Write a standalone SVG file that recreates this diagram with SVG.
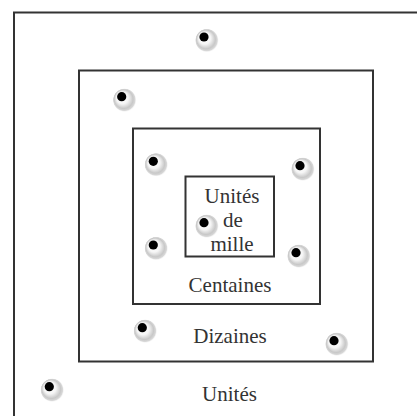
<svg xmlns="http://www.w3.org/2000/svg" width="417" height="416" viewBox="0 0 417 416">
<style>
.box{fill:none;stroke:#333;stroke-width:2}
.lbl{font-family:"Liberation Serif","Times New Roman",serif;font-size:21px;fill:#333;text-anchor:middle}
</style>
<defs>
<radialGradient id="halo" cx="0.5" cy="0.5" r="0.5" fx="0.3" fy="0.3">
<stop offset="0" stop-color="#fff"/>
<stop offset="0.5" stop-color="#f6f6f6"/>
<stop offset="0.78" stop-color="#c8c8c8"/>
<stop offset="0.9" stop-color="#d8d8d8"/>
<stop offset="1" stop-color="#fff" stop-opacity="0"/>
</radialGradient>
<g id="dot">
<circle cx="3" cy="3.5" r="12" fill="url(#halo)"/>
<circle cx="0" cy="0" r="4.6" fill="#000"/>
</g>
</defs>
<rect width="417" height="416" fill="#fff"/>
<g id="unites">
<path class="box" d="M14 416 V12.5 H417"/>
<text class="lbl" x="229.5" y="401">Unités</text>
</g>
<g id="dizaines">
<rect class="box" x="79" y="70.5" width="294" height="291"/>
<text class="lbl" x="230" y="343">Dizaines</text>
</g>
<g id="centaines">
<rect class="box" x="133" y="128.5" width="187" height="175.5"/>
<text class="lbl" x="230" y="291.5">Centaines</text>
</g>
<g id="unites-de-mille">
<rect class="box" x="185.5" y="176.5" width="88.5" height="80"/>
<text class="lbl" x="232" y="203">Unités</text>
<text class="lbl" x="233" y="227">de</text>
<text class="lbl" x="232" y="250.5">mille</text>
</g>
<g id="dots">
<use href="#dot" x="204" y="37"/>
<use href="#dot" x="121.7" y="96.7"/>
<use href="#dot" x="153.3" y="161.3"/>
<use href="#dot" x="300" y="165.7"/>
<use href="#dot" x="204" y="222.7"/>
<use href="#dot" x="153.3" y="245"/>
<use href="#dot" x="296" y="252.7"/>
<use href="#dot" x="142.3" y="327.7"/>
<use href="#dot" x="334" y="340.7"/>
<use href="#dot" x="49.3" y="386.7"/>
</g>
</svg>
